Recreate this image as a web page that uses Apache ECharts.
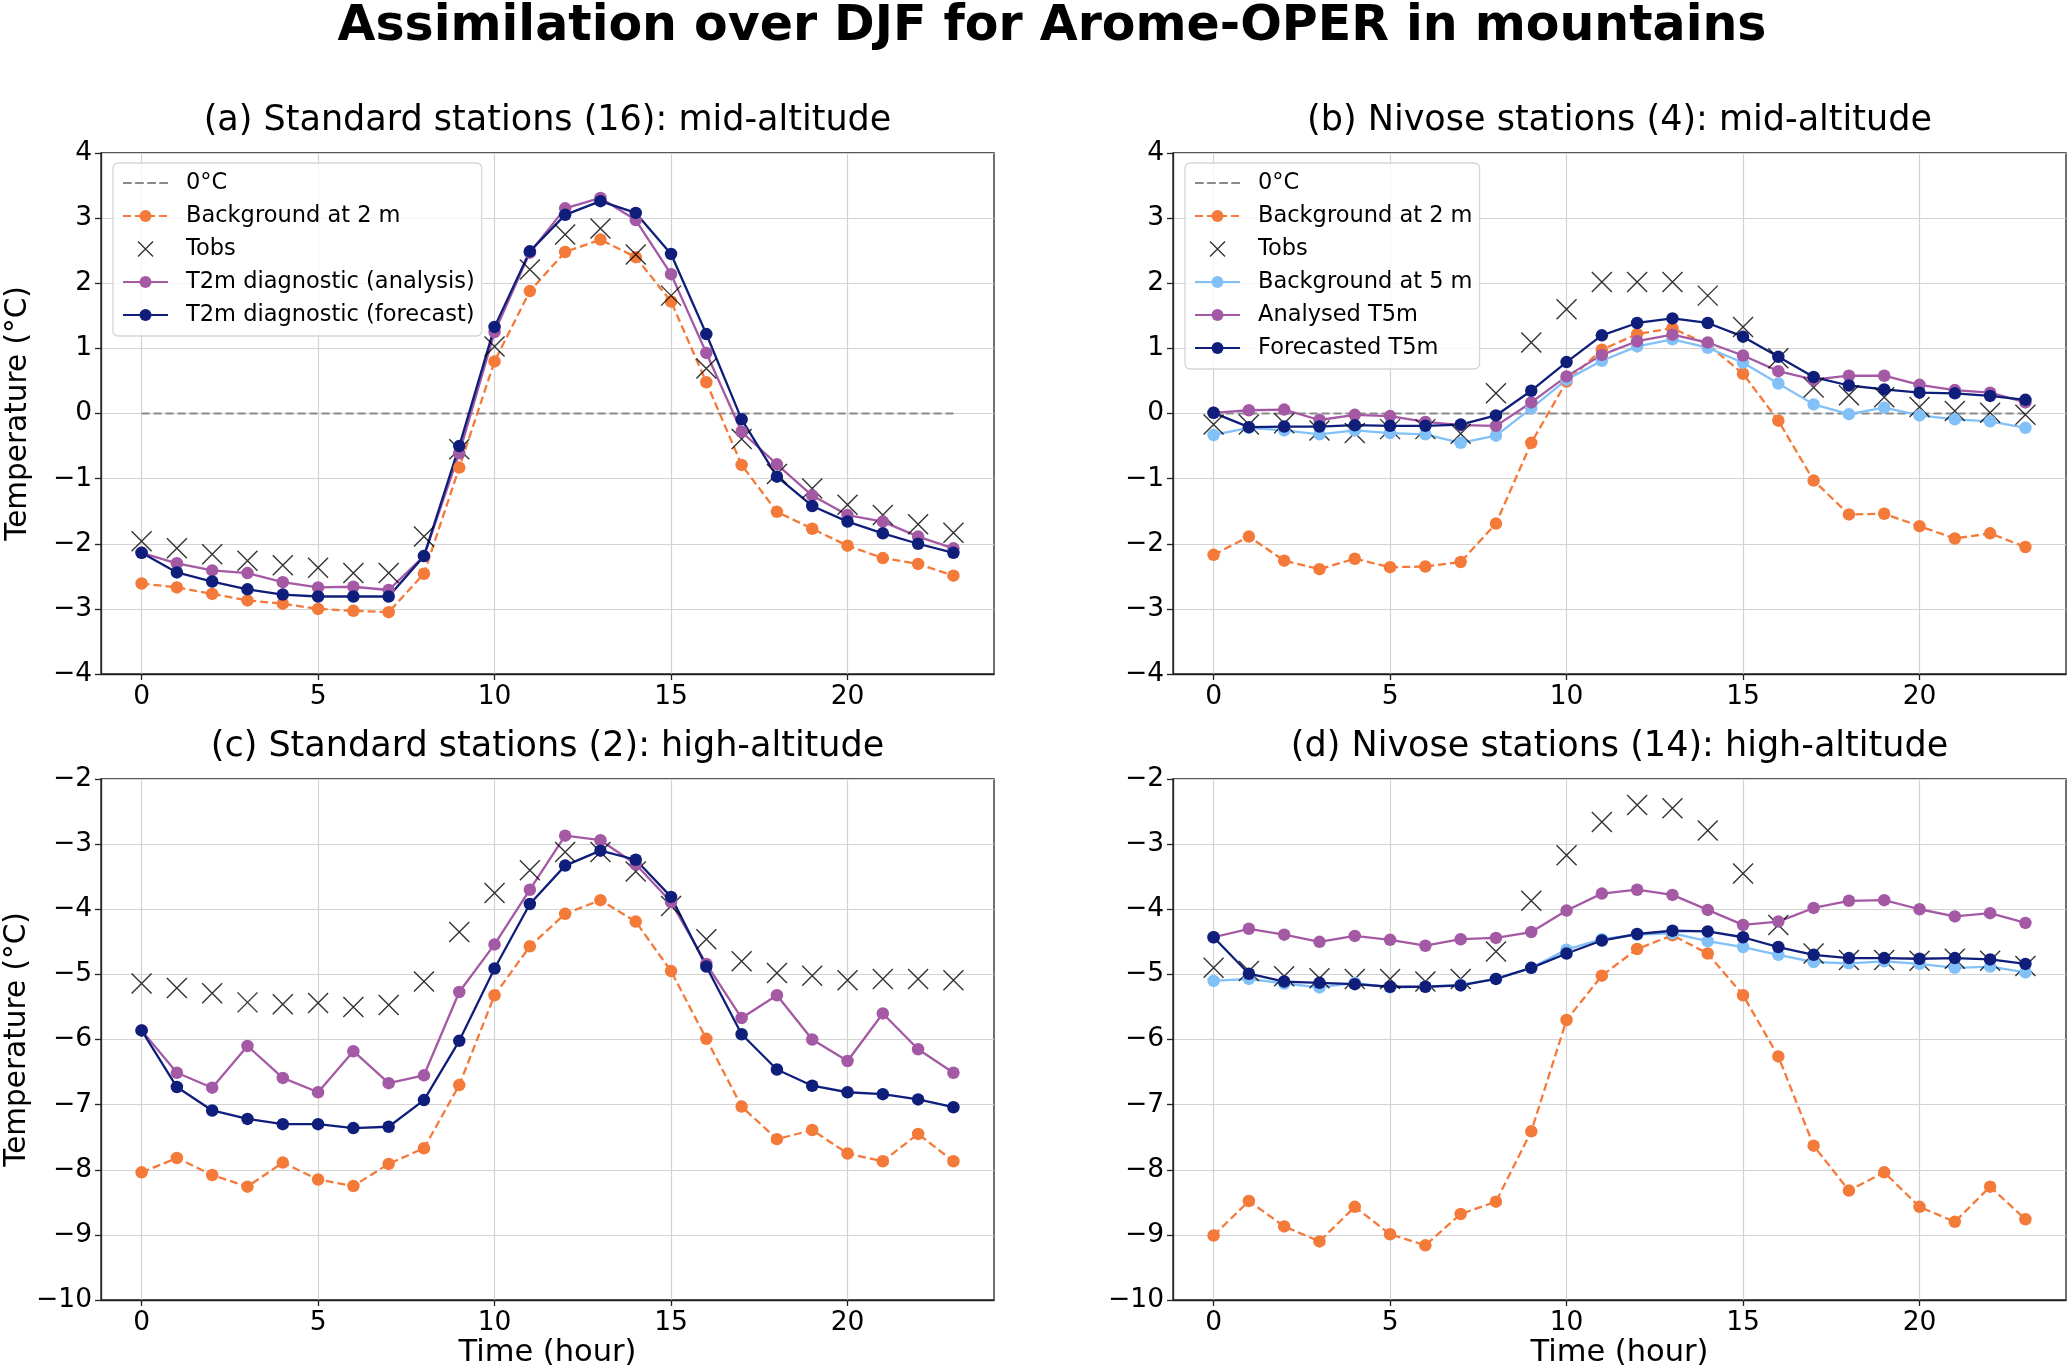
<!DOCTYPE html>
<html>
<head>
<meta charset="utf-8">
<script src="https://cdn.jsdelivr.net/npm/echarts@6/dist/echarts.min.js"></script>
<style>
html,body{margin:0;padding:0;background:#fff;}
#chart{width:2067px;height:1368px;}
</style>
</head>
<body>
<div id="chart"></div>
<script>
// ---------- data ----------
const hours = [0,1,2,3,4,5,6,7,8,9,10,11,12,13,14,15,16,17,18,19,20,21,22,23];
const xTickValues = [0,5,10,15,20];
const yTicksMid = [-4,-3,-2,-1,0,1,2,3,4];
const yTicksHigh = [-10,-9,-8,-7,-6,-5,-4,-3,-2];
const zeroLine = [0,0];
const zeroHours = [0,23];

// (a) Standard stations (16): mid-altitude
const aBg2m = [-2.61,-2.67,-2.77,-2.87,-2.92,-3.00,-3.03,-3.05,-2.46,-0.83,0.80,1.88,2.48,2.67,2.40,1.72,0.48,-0.79,-1.51,-1.77,-2.03,-2.22,-2.31,-2.49];
const aTobs = [-1.96,-2.07,-2.16,-2.26,-2.33,-2.37,-2.45,-2.45,-1.89,-0.55,1.03,2.21,2.75,2.84,2.44,1.81,0.69,-0.39,-0.93,-1.15,-1.40,-1.56,-1.70,-1.83];
const aAna = [-2.14,-2.30,-2.41,-2.45,-2.59,-2.67,-2.66,-2.71,-2.19,-0.61,1.25,2.47,3.15,3.31,2.97,2.14,0.93,-0.28,-0.78,-1.26,-1.56,-1.66,-1.89,-2.07];
const aFc = [-2.14,-2.44,-2.58,-2.70,-2.78,-2.81,-2.81,-2.81,-2.19,-0.50,1.33,2.49,3.05,3.26,3.08,2.45,1.22,-0.09,-0.97,-1.42,-1.66,-1.84,-2.00,-2.14];

// (b) Nivose stations (4): mid-altitude
const bBg2m = [-2.17,-1.89,-2.26,-2.39,-2.23,-2.36,-2.35,-2.28,-1.69,-0.45,0.49,0.98,1.22,1.31,1.06,0.61,-0.11,-1.03,-1.55,-1.54,-1.73,-1.92,-1.84,-2.05];
const bTobs = [-0.17,-0.17,-0.15,-0.26,-0.30,-0.24,-0.24,-0.31,0.31,1.09,1.60,2.02,2.02,2.02,1.81,1.33,0.85,0.40,0.28,0.25,0.10,0.04,0.01,-0.02];
const bBg5m = [-0.33,-0.22,-0.26,-0.32,-0.26,-0.30,-0.32,-0.45,-0.34,0.08,0.52,0.81,1.03,1.14,1.01,0.78,0.46,0.14,-0.01,0.09,-0.03,-0.09,-0.12,-0.22];
const bAna = [0.01,0.05,0.06,-0.10,-0.02,-0.04,-0.13,-0.18,-0.19,0.17,0.57,0.90,1.11,1.21,1.09,0.89,0.65,0.52,0.58,0.58,0.44,0.36,0.32,0.17];
const bFc = [0.01,-0.21,-0.20,-0.20,-0.18,-0.19,-0.19,-0.17,-0.03,0.35,0.79,1.20,1.39,1.46,1.39,1.18,0.87,0.56,0.43,0.37,0.32,0.31,0.27,0.21];

// (c) Standard stations (2): high-altitude
const cBg2m = [-8.04,-7.82,-8.08,-8.26,-7.89,-8.15,-8.25,-7.91,-7.67,-6.70,-5.32,-4.57,-4.07,-3.86,-4.19,-4.95,-5.99,-7.03,-7.53,-7.39,-7.75,-7.87,-7.45,-7.87];
const cTobs = [-5.14,-5.21,-5.29,-5.43,-5.46,-5.44,-5.50,-5.47,-5.11,-4.35,-3.75,-3.40,-3.12,-3.12,-3.42,-3.95,-4.46,-4.80,-4.98,-5.02,-5.09,-5.07,-5.07,-5.09];
const cAna = [-5.86,-6.51,-6.74,-6.10,-6.59,-6.81,-6.18,-6.67,-6.55,-5.27,-4.54,-3.70,-2.87,-2.94,-3.31,-3.89,-4.84,-5.67,-5.32,-6.00,-6.33,-5.60,-6.15,-6.51];
const cFc = [-5.86,-6.73,-7.09,-7.22,-7.30,-7.30,-7.36,-7.34,-6.93,-6.02,-4.91,-3.92,-3.33,-3.10,-3.24,-3.81,-4.88,-5.92,-6.46,-6.71,-6.81,-6.84,-6.92,-7.04];

// (d) Nivose stations (14): high-altitude
const dBg2m = [-9.01,-8.48,-8.87,-9.10,-8.57,-8.99,-9.16,-8.68,-8.49,-7.41,-5.70,-5.02,-4.61,-4.40,-4.68,-5.32,-6.26,-7.63,-8.32,-8.04,-8.57,-8.80,-8.26,-8.76];
const dTobs = [-4.90,-4.95,-5.03,-5.06,-5.07,-5.07,-5.11,-5.07,-4.65,-3.87,-3.17,-2.66,-2.40,-2.45,-2.79,-3.45,-4.24,-4.68,-4.78,-4.78,-4.79,-4.76,-4.79,-4.87];
const dBg5m = [-5.10,-5.07,-5.14,-5.20,-5.13,-5.20,-5.19,-5.16,-5.07,-4.90,-4.62,-4.46,-4.39,-4.37,-4.49,-4.58,-4.70,-4.81,-4.83,-4.80,-4.84,-4.90,-4.88,-4.97];
const dAna = [-4.43,-4.30,-4.39,-4.50,-4.41,-4.47,-4.56,-4.46,-4.44,-4.35,-4.02,-3.76,-3.70,-3.78,-4.01,-4.24,-4.19,-3.98,-3.87,-3.86,-4.00,-4.11,-4.06,-4.21];
const dFc = [-4.43,-4.99,-5.11,-5.13,-5.15,-5.19,-5.19,-5.17,-5.07,-4.90,-4.68,-4.48,-4.38,-4.33,-4.34,-4.43,-4.58,-4.70,-4.75,-4.75,-4.76,-4.75,-4.77,-4.84];

const panelTitles = ['(a) Standard stations (16): mid-altitude','(b) Nivose stations (4): mid-altitude','(c) Standard stations (2): high-altitude','(d) Nivose stations (14): high-altitude'];
const mainTitle = 'Assimilation over DJF for Arome-OPER in mountains';
const legendA = ['0°C','Background at 2 m','Tobs','T2m diagnostic (analysis)','T2m diagnostic (forecast)'];
const legendB = ['0°C','Background at 2 m','Tobs','Background at 5 m','Analysed T5m','Forecasted T5m'];

// ---------- style ----------
const FONT = 'DejaVu Sans';
const C_ORANGE = '#F47A3A', C_PURPLE = '#A459A4', C_NAVY = '#0F1E7A', C_LBLUE = '#82C0F8', C_GREY = '#8a8a8a';
const X_PATH = 'path://M0,0L20,20M20,0L0,20';
const DASH_PATH = 'path://M0,0h9v2.2h-9zM12.5,0h9v2.2h-9zM25,0h9v2.2h-9zM37.5,0h9v2.2h-9z';

const pair = (ys) => ys.map((y, i) => [hours[i], y]);
const minusFmt = (v) => String(v).replace('-', '\u2212');

const grids = [
  {left:101, top:153, width:893, height:521},
  {left:1173, top:153, width:893, height:521},
  {left:101, top:779, width:893, height:521},
  {left:1173, top:779, width:893, height:521}
].map(g => Object.assign(g, {show:true, borderColor:'#222', borderWidth:1.3, backgroundColor:'transparent', containLabel:false, outerBoundsMode:'none'}));

const xAxes = [0,1,2,3].map(i => ({
  type:'value', gridIndex:i, min:-1.15, max:24.15,
  axisLine:{show:true, onZero:false, lineStyle:{color:'#222', width:1.3}},
  axisTick:{show:true, length:6, customValues:xTickValues, lineStyle:{color:'#222', width:1.3}},
  axisLabel:{customValues:xTickValues, fontFamily:FONT, fontSize:26.5, color:'#000', margin:10},
  splitLine:{show:true, lineStyle:{color:'#d3d3d3', width:1.2}},
  name: i >= 2 ? 'Time (hour)' : '', nameLocation:'middle', nameGap:36,
  nameTextStyle:{fontFamily:FONT, fontSize:30.5, color:'#000'}
}));

const yAxes = [0,1,2,3].map(i => {
  const ticks = i < 2 ? yTicksMid : yTicksHigh;
  return {
    type:'value', gridIndex:i, min:ticks[0], max:ticks[ticks.length-1], interval:1,
    axisLine:{show:true, onZero:false, lineStyle:{color:'#222', width:1.3}},
    axisTick:{show:true, length:6, lineStyle:{color:'#222', width:1.3}},
    axisLabel:{fontFamily:FONT, fontSize:26.5, color:'#000', margin:9, formatter:minusFmt},
    splitLine:{show:true, lineStyle:{color:'#d3d3d3', width:1.2}},
    name: (i % 2 === 0) ? 'Temperature (°C)' : '', nameLocation:'middle', nameRotate:90, nameGap:68,
    nameTextStyle:{fontFamily:FONT, fontSize:29.5, color:'#000'}
  };
});

function zeroSeries(i){
  return {name:'0°C', type:'line', xAxisIndex:i, yAxisIndex:i, symbol:'none',
    data: zeroHours.map((h, k) => [h, zeroLine[k]]),
    lineStyle:{color:C_GREY, width:2, type:[8,4]}, itemStyle:{color:C_GREY}, z:2, silent:true};
}
function lineSeries(name, i, ys, color, dashed){
  return {name, type:'line', xAxisIndex:i, yAxisIndex:i, data:pair(ys),
    symbol:'circle', symbolSize:12.5, showSymbol:true,
    lineStyle:{color, width:2.3, type: dashed ? [8,4] : 'solid'},
    itemStyle:{color}, z:3};
}
function obsSeries(i, ys){
  return {name:'Tobs', type:'scatter', xAxisIndex:i, yAxisIndex:i, data:pair(ys),
    symbol:X_PATH, symbolSize:20,
    itemStyle:{color:'none', borderColor:'#000', borderWidth:1.4}, z:3};
}

const series = [
  zeroSeries(0), lineSeries('Background at 2 m',0,aBg2m,C_ORANGE,true), obsSeries(0,aTobs),
  lineSeries('T2m diagnostic (analysis)',0,aAna,C_PURPLE,false), lineSeries('T2m diagnostic (forecast)',0,aFc,C_NAVY,false),
  zeroSeries(1), lineSeries('Background at 2 m',1,bBg2m,C_ORANGE,true), obsSeries(1,bTobs),
  lineSeries('Background at 5 m',1,bBg5m,C_LBLUE,false), lineSeries('Analysed T5m',1,bAna,C_PURPLE,false), lineSeries('Forecasted T5m',1,bFc,C_NAVY,false),
  lineSeries('Background at 2 m',2,cBg2m,C_ORANGE,true), obsSeries(2,cTobs),
  lineSeries('T2m diagnostic (analysis)',2,cAna,C_PURPLE,false), lineSeries('T2m diagnostic (forecast)',2,cFc,C_NAVY,false),
  lineSeries('Background at 2 m',3,dBg2m,C_ORANGE,true), obsSeries(3,dTobs),
  lineSeries('Background at 5 m',3,dBg5m,C_LBLUE,false), lineSeries('Analysed T5m',3,dAna,C_PURPLE,false), lineSeries('Forecasted T5m',3,dFc,C_NAVY,false)
];

function legendCfg(names, left){
  return {
    orient:'vertical', left, top:163, selectedMode:false,
    data: names.map(n => {
      if (n === 'Tobs') return {name:n, icon:X_PATH, itemStyle:{color:'none', borderColor:'#000', borderWidth:1.4}};
      if (n === '0°C') return {name:n, icon:DASH_PATH, itemStyle:{color:C_GREY, borderWidth:0}};
      return n;
    }),
    itemWidth:45, itemHeight:15, itemGap:3,
    padding:[5,7,6,9],
    backgroundColor:'rgba(255,255,255,0.8)', borderColor:'#d6d6d6', borderWidth:1.3, borderRadius:5,
    textStyle:{fontFamily:FONT, fontSize:22.5, color:'#000', lineHeight:30, padding:[0,0,0,13]}
  };
}

const titleCenters = [[547.5,117],[1619.5,117],[547.5,743],[1619.5,743]];
const titles = [{
  text: mainTitle, left:1052, top:3, textAlign:'center', padding:0,
  textStyle:{fontFamily:FONT, fontSize:49, fontWeight:'bold', color:'#000'}
}].concat(panelTitles.map((t, i) => ({
  text:t, left:titleCenters[i][0], top:titleCenters[i][1]-14, textAlign:'center', padding:0,
  textStyle:{fontFamily:FONT, fontSize:35, fontWeight:'normal', color:'#000'}
})));

const chart = echarts.init(document.getElementById('chart'), null, {renderer:'canvas'});
chart.setOption({
  backgroundColor:'#fff',
  animation:false,
  title: titles,
  legend: [legendCfg(legendA, 113), legendCfg(legendB, 1185)],
  grid: grids,
  xAxis: xAxes,
  yAxis: yAxes,
  series
});
</script>
</body>
</html>
